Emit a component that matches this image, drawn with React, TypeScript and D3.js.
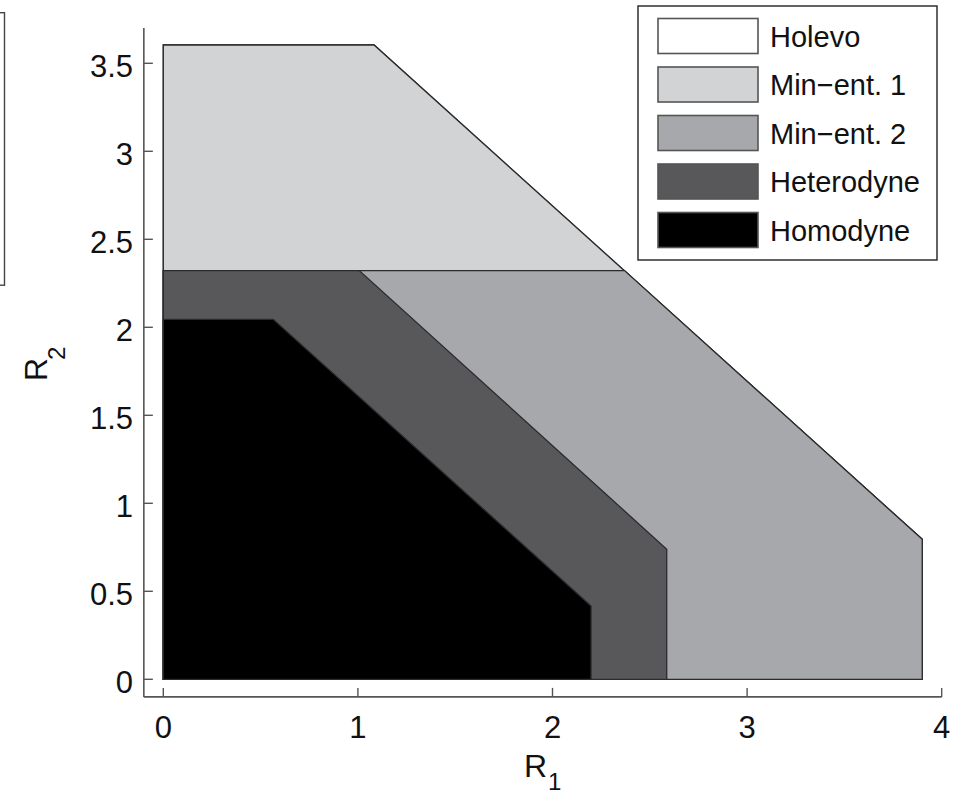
import React from "react";
import * as d3 from "d3";

const seriesNames = ["Holevo", "Min\u2212ent. 1", "Min\u2212ent. 2", "Heterodyne", "Homodyne"];
const seriesColors = ["#ffffff", "#d2d3d5", "#a7a8ab", "#58585a", "#000000"];

const holevoR1 = [0, 0, 1.083, 3.9, 3.9];
const holevoR2 = [0, 3.604, 3.604, 0.795, 0];
const minEnt1R1 = [0, 0, 1.083, 3.9, 3.9];
const minEnt1R2 = [0, 3.604, 3.604, 0.795, 0];
const minEnt2R1 = [0, 0, 2.37, 3.9, 3.9];
const minEnt2R2 = [0, 2.322, 2.322, 0.795, 0];
const heteroR1 = [0, 0, 1.007, 2.587, 2.587];
const heteroR2 = [0, 2.322, 2.322, 0.739, 0];
const homoR1 = [0, 0, 0.565, 2.198, 2.198];
const homoR2 = [0, 2.045, 2.045, 0.416, 0];

const xTicks = [0, 1, 2, 3, 4];
const yTicks = [0, 0.5, 1, 1.5, 2, 2.5, 3, 3.5];

const regions = [
  [holevoR1, holevoR2],
  [minEnt1R1, minEnt1R2],
  [minEnt2R1, minEnt2R2],
  [heteroR1, heteroR2],
  [homoR1, homoR2],
];

const FONT = "'Liberation Sans', Arial, Helvetica, sans-serif";

export default function App() {
  const xs = d3.scaleLinear().domain([0, 4]).range([163.3, 941.7]);
  const ys = d3.scaleLinear().domain([0, 3.5]).range([679.3, 63.3]);
  const xMin = -0.1, yMin = -0.1, yMax = 3.7;
  const axisX = xs(xMin);
  const axisY = ys(yMin);
  const line = d3.line<[number, number]>().x((d) => xs(d[0])).y((d) => ys(d[1]));

  const legendX = 638, legendY = 6, legendW = 299, legendH = 254;
  const rowY = (i: number) => 18.5 + i * 48.5;

  return (
    <svg width={961} height={796} style={{ position: "absolute", left: 0, top: 0, background: "#fff" }}>
      {/* clipped box from neighbouring panel */}
      <rect x={-10} y={12.7} width={14.5} height={272.5} fill="none" stroke="#444" strokeWidth={1.4} />

      {regions.map((r, i) => {
        const pts = r[0].map((v, k) => [v, r[1][k]] as [number, number]);
        return (
          <path key={i} d={line(pts)! + "Z"} fill={seriesColors[i]} stroke="#2b2b2b" strokeWidth={1.3} strokeLinejoin="miter" />
        );
      })}

      {/* axes */}
      <line x1={axisX} x2={axisX} y1={ys(yMax)} y2={axisY} stroke="#555" strokeWidth={1.6} />
      <line x1={axisX} x2={xs(4)} y1={axisY} y2={axisY} stroke="#555" strokeWidth={1.6} />
      {yTicks.map((t) => (
        <g key={"y" + t}>
          <line x1={axisX} x2={axisX + 9} y1={ys(t)} y2={ys(t)} stroke="#555" strokeWidth={1.4} />
          <text x={133} y={ys(t) + 13.5} textAnchor="end" fontFamily={FONT} fontSize={31} fill="#111">
            {String(t)}
          </text>
        </g>
      ))}
      {xTicks.map((t) => (
        <g key={"x" + t}>
          <line x1={xs(t)} x2={xs(t)} y1={axisY} y2={axisY - 9} stroke="#555" strokeWidth={1.4} />
          <text x={xs(t)} y={738} textAnchor="middle" fontFamily={FONT} fontSize={31} fill="#111">
            {String(t)}
          </text>
        </g>
      ))}

      {/* axis labels */}
      <text x={524} y={777} fontFamily={FONT} fontSize={32} fill="#111">R</text>
      <text x={548} y={790} fontFamily={FONT} fontSize={24} fill="#111">1</text>
      <text transform="translate(47,381) rotate(-90)" fontFamily={FONT} fontSize={32} fill="#111">R</text>
      <text transform="translate(65,360) rotate(-90)" fontFamily={FONT} fontSize={24} fill="#111">2</text>

      {/* legend */}
      <rect x={legendX} y={legendY} width={legendW} height={legendH} fill="#fff" stroke="#222" strokeWidth={1.4} />
      {seriesNames.map((n, i) => (
        <g key={n}>
          <rect x={658} y={rowY(i)} width={100} height={35} fill={seriesColors[i]} stroke="#555" strokeWidth={1.6} />
          <text x={770} y={rowY(i) + 28} fontFamily={FONT} fontSize={29} fill="#111">
            {n}
          </text>
        </g>
      ))}
    </svg>
  );
}
